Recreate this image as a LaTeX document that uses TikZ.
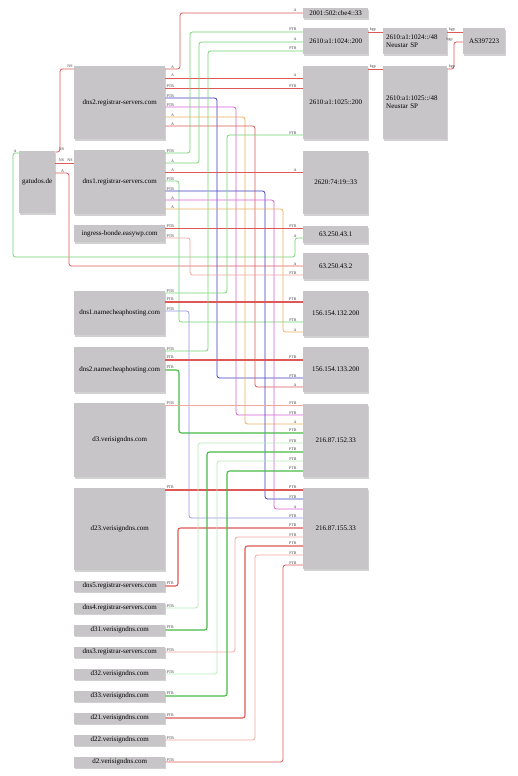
\documentclass[tikz,border=0pt]{standalone}
\usepackage{fontspec}
\setmainfont{Liberation Serif}
\usetikzlibrary{shadows}

\definecolor{boxgray}{RGB}{199,197,199}
\definecolor{wred}{RGB}{222,88,88}
\definecolor{wpink}{RGB}{238,168,162}
\definecolor{wgreen}{RGB}{118,212,118}
\definecolor{wpale}{RGB}{182,234,182}
\definecolor{wdark}{RGB}{72,186,72}
\definecolor{wblue}{RGB}{62,62,192}
\definecolor{wsky}{RGB}{150,150,228}
\definecolor{wmag}{RGB}{214,98,214}
\definecolor{worange}{RGB}{234,176,92}

\tikzset{
  host/.style={fill=boxgray, anchor=north west, inner sep=1pt, align=center,
    font=\fontsize{7}{8}\selectfont,
    drop shadow={shadow xshift=1pt, shadow yshift=-1.5pt, fill=black!40, opacity=.45}},
  lhost/.style={host, minimum width=91pt},
  rhost/.style={host, minimum width=65pt},
  slim/.style={lhost, anchor=west, minimum height=11pt},
  lbl/.style={font=\fontsize{4}{4}\selectfont, inner sep=0pt, text=black!75},
  slbl/.style={lbl, anchor=south east, xshift=9pt, yshift=.6pt},
  tlbl/.style={lbl, anchor=south east, xshift=-6pt, yshift=.6pt},
  blbl/.style={lbl, anchor=south west, xshift=1pt, yshift=.6pt},
  wire/.style={line width=.8pt, rounded corners=2.5pt},
  heavy/.style={line width=1.1pt},
  wr/.style={wire, draw=wred},
  wp/.style={wire, draw=wpink},
  wg/.style={wire, draw=wgreen},
  wl/.style={wire, draw=wpale},
  wd/.style={wire, draw=wdark, heavy},
  wb/.style={wire, draw=wblue},
  ws/.style={wire, draw=wsky},
  wm/.style={wire, draw=wmag},
  wo/.style={wire, draw=worange},
}

% record from a host port (y) over a bus (x) to an address port (y)
\newcommand{\conn}[7]{\draw[#1] (#2.east |- 0,#3) node[slbl]{#4} -| (#5,#7) -- (#6.west |- 0,#7) node[tlbl]{#4};}
\newcommand{\sconn}[5]{\draw[#1] (#2.east |- 0,#3) node[slbl]{#4} -- (#5.west |- 0,#3) node[tlbl]{#4};}

\begin{document}
\begin{tikzpicture}[x=1pt, y=-1pt]
    \useasboundingbox[fill=white] (0,0) rectangle (518,776);

    % Hosts
    \node[host, minimum width=36pt, minimum height=62pt] (gat) at (19,151) {gatudos.de};
    \node[lhost, minimum height=73pt] (dnsb) at (74,66) {dns2.registrar-servers.com};
    \node[lhost, minimum height=64pt] (dnsa) at (74,150) {dns1.registrar-servers.com};
    \node[lhost, minimum height=17pt] (ingr) at (74,225) {ingress-bonde.easywp.com};
    \node[lhost, minimum height=44pt] (nca) at (74,291) {dns1.namecheaphosting.com};
    \node[lhost, minimum height=45pt] (ncb) at (74,347) {dns2.namecheaphosting.com};
    \node[lhost, minimum height=74pt] (vsa) at (74,403) {d3.verisigndns.com};
    \node[lhost, minimum height=82pt] (vsb) at (74,488) {d23.verisigndns.com};
    \node[slim] (rsf) at (74,586) {dns5.registrar-servers.com};
    \node[slim] (rsd) at (74,608) {dns4.registrar-servers.com};
    \node[slim] (vsc) at (74,630) {d31.verisigndns.com};
    \node[slim] (rsc) at (74,652) {dns3.registrar-servers.com};
    \node[slim] (vsd) at (74,674) {d32.verisigndns.com};
    \node[slim] (vse) at (74,696) {d33.verisigndns.com};
    \node[slim] (vsf) at (74,718) {d21.verisigndns.com};
    \node[slim] (vsg) at (74,740) {d22.verisigndns.com};
    \node[slim] (vsh) at (74,762) {d2.verisigndns.com};

    % Addresses
    \node[rhost, minimum height=10pt] (ipa) at (303,8) {2001:502:cbe4::33};
    \node[rhost, minimum height=26pt] (ipb) at (303,28) {2610:a1:1024::200};
    \node[rhost, minimum height=73pt] (ipc) at (303,66) {2610:a1:1025::200};
    \node[rhost, minimum height=63pt] (ipd) at (303,151) {2620:74:19::33};
    \node[rhost, minimum height=17pt] (ipe) at (303,226) {63.250.43.1};
    \node[rhost, minimum height=26pt] (ipf) at (303,253) {63.250.43.2};
    \node[rhost, minimum height=45pt] (ipg) at (303,291) {156.154.132.200};
    \node[rhost, minimum height=45pt] (iph) at (303,347) {156.154.133.200};
    \node[rhost, minimum height=73pt] (ipi) at (303,404) {216.87.152.33};
    \node[rhost, minimum height=81pt] (ipj) at (303,488) {216.87.155.33};

    % Prefixes and AS
    \node[host, minimum width=64pt, minimum height=26pt, text width=58pt, align=left] (pfa) at (383,28) {2610:a1:1024::/48\\Neustar SP};
    \node[host, minimum width=64pt, minimum height=73pt, text width=58pt, align=left] (pfb) at (383,66) {2610:a1:1025::/48\\Neustar SP};
    \node[host, minimum width=42pt, minimum height=26pt] (asn) at (463,28) {AS397223};

    % gatudos.de
    \draw[wr] (gat.east |- 0,152) node[slbl]{NS} -| (60,69) -- (dnsb.west |- 0,69) node[lbl, anchor=south east, xshift=-1pt, yshift=.6pt]{NS};
    \draw[wr] (gat.east |- 0,163) node[slbl]{NS} -- (dnsa.west |- 0,163) node[lbl, anchor=south east, xshift=-1pt, yshift=.6pt]{NS};
    \conn{wr}{gat}{173}{A}{69}{ipf}{266}
    \draw[wg] (gat.west |- 0,153) node[lbl, anchor=south east, xshift=-2pt, yshift=.6pt]{A} -| (13,257) -| (295,238) -- (ipe.west |- 0,238) node[tlbl]{A};

    % dns2.registrar-servers.com
    \conn{wr}{dnsb}{69}{A}{180}{ipa}{13}
    \sconn{wr}{dnsb}{78}{A}{ipc}
    \sconn{wr}{dnsb}{88}{PTR}{ipc}
    \conn{wb}{dnsb}{98}{PTR}{217}{iph}{378}
    \conn{wm}{dnsb}{107}{PTR}{236}{ipi}{415}
    \conn{wo}{dnsb}{117}{A}{245}{ipi}{424}
    \conn{wr}{dnsb}{126}{A}{255}{iph}{387}

    % dns1.registrar-servers.com
    \conn{wg}{dnsa}{153}{PTR}{190}{ipb}{32}
    \conn{wg}{dnsa}{163}{A}{199}{ipb}{42}
    \sconn{wr}{dnsa}{172}{A}{ipd}
    \conn{wg}{dnsa}{181}{PTR}{179}{ipg}{322}
    \conn{wb}{dnsa}{191}{PTR}{265}{ipj}{499}
    \conn{wm}{dnsa}{200}{A}{274}{ipj}{509}
    \conn{wo}{dnsa}{209}{A}{283}{ipg}{332}

    % ingress-bonde.easywp.com
    \sconn{wr}{ingr}{228}{PTR}{ipe}
    \conn{wp}{ingr}{238}{PTR}{190}{ipf}{275}

    % namecheaphosting
    \conn{wg}{nca}{293}{PTR}{227}{ipc}{135}
    \sconn{wr, heavy}{nca}{302}{PTR}{ipg}
    \conn{ws}{nca}{311}{PTR}{189}{ipj}{518}
    \conn{wg}{ncb}{351}{PTR}{208}{ipb}{51}
    \sconn{wr, heavy}{ncb}{360}{PTR}{iph}
    \conn{wd}{ncb}{370}{PTR}{179}{ipi}{433}

    % verisigndns and the rest
    \sconn{wp}{vsa}{405}{PTR}{ipi}
    \sconn{wr, heavy}{vsb}{490}{PTR}{ipj}
    \conn{wr, heavy}{rsf}{586}{PTR}{178}{ipj}{528}
    \conn{wl}{rsd}{608}{PTR}{198}{ipi}{443}
    \conn{wd}{vsc}{630}{PTR}{207}{ipi}{452}
    \conn{wp}{rsc}{652}{PTR}{235}{ipj}{537}
    \conn{wl}{vsd}{674}{PTR}{217}{ipi}{461}
    \conn{wd}{vse}{696}{PTR}{227}{ipi}{471}
    \conn{wr, heavy}{vsf}{718}{PTR}{245}{ipj}{546}
    \conn{wp}{vsg}{740}{PTR}{255}{ipj}{555}
    \conn{wr}{vsh}{762}{PTR}{283}{ipj}{565}

    % bgp
    \draw[wr] (ipb.east |- 0,32) node[blbl]{bgp} -- (pfa.west |- 0,32);
    \draw[wr] (ipc.east |- 0,69) node[blbl]{bgp} -- (pfb.west |- 0,69);
    \draw[wr] (pfa.east |- 0,32) node[blbl]{bgp} -- (asn.west |- 0,32);
    \draw[wr] (pfb.east |- 0,69) node[blbl]{bgp} -| (454,42) node[lbl, anchor=south east, xshift=-1pt, yshift=.6pt]{bgp} -- (asn.west |- 0,42);
\end{tikzpicture}
\end{document}
